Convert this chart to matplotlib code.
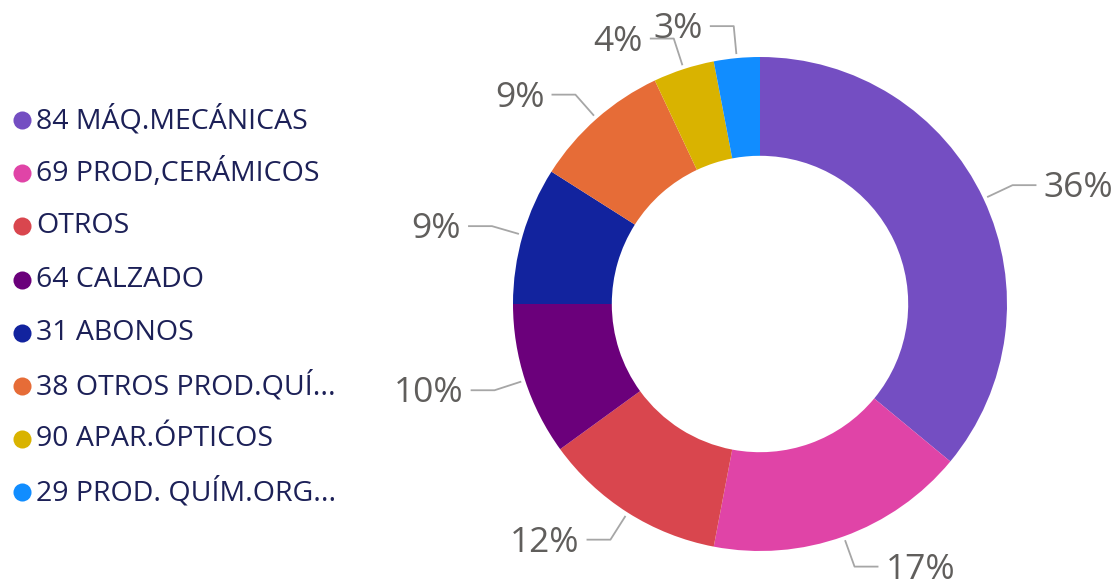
import numpy as np
import matplotlib
matplotlib.use("Agg")
import matplotlib.pyplot as plt

categories = ["84 MÁQ.MECÁNICAS", "69 PROD,CERÁMICOS", "OTROS", "64 CALZADO",
              "31 ABONOS", "38 OTROS PROD.QUÍ...", "90 APAR.ÓPTICOS", "29 PROD. QUÍM.ORG..."]
shares = [36, 17, 12, 10, 9, 9, 4, 3]
colors = ["#744EC2", "#E044A7", "#D9464E", "#6B007B", "#12239E", "#E66C37", "#D9B300", "#118DFF"]

W, H = 1120, 587
fig = plt.figure(figsize=(W / 100, H / 100), dpi=100)
ax = fig.add_axes([0, 0, 1, 1])

cx, cy, R = 760, 283, 247
ax.pie(shares, colors=colors, startangle=90, counterclock=False,
       center=(cx, cy), radius=R, wedgeprops=dict(width=R * 0.4, linewidth=0))
ax.set_xlim(0, W)
ax.set_ylim(0, H)
ax.set_aspect("equal")
ax.axis("off")

# percent labels with leader lines
total = sum(shares)
cum = 0
for v in shares:
    mid = (cum + v / 2) / total * 2 * np.pi
    cum += v
    sx, sy = np.sin(mid), np.cos(mid)
    p0 = (cx + R * 1.02 * sx, cy + R * 1.02 * sy)
    p1 = (cx + R * 1.13 * sx, cy + R * 1.13 * sy)
    side = 1 if sx >= 0 else -1
    p2 = (p1[0] + side * 23, p1[1])
    ax.plot([p0[0], p1[0], p2[0]], [p0[1], p1[1], p2[1]], color="#A6A6A6", lw=1.3)
    ax.text(p2[0] + side * 8, p2[1] - 3, f"{v}%", ha="left" if side > 0 else "right",
            va="center", fontsize=25.5, color="#605E5C", family="Open Sans")

# legend
for i, (c, lab) in enumerate(zip(colors, categories)):
    y = H - 120 - i * 53.2
    ax.plot(22, y, "o", ms=13, color=c, mec="none")
    ax.text(36, y, lab, ha="left", va="center", fontsize=20.5, color="#1C2057",
            family="Open Sans")

fig.savefig("out.png", dpi=100)
